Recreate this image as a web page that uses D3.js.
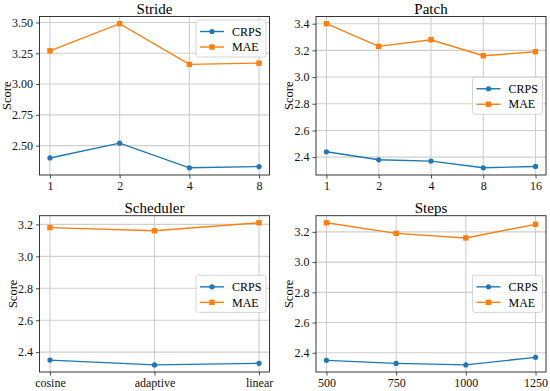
<!DOCTYPE html>
<html>
<head>
<meta charset="utf-8">
<script src="https://cdn.jsdelivr.net/npm/d3@7"></script>
<style>
  html, body { margin: 0; padding: 0; background: #fff; }
  svg { display: block; font-family: "Liberation Serif", "DejaVu Serif", serif; }
</style>
</head>
<body>
<div id="chart"></div>
<script>
// values
const strideCats = ['1', '2', '4', '8'];
const strideCRPS = [2.40, 2.52, 2.32, 2.33];
const strideMAE = [3.27, 3.49, 3.16, 3.17];
const strideTicks = [2.50, 2.75, 3.00, 3.25, 3.50];

const patchCats = ['1', '2', '4', '8', '16'];
const patchCRPS = [2.44, 2.38, 2.37, 2.32, 2.33];
const patchMAE = [3.40, 3.23, 3.28, 3.16, 3.19];
const patchTicks = [2.4, 2.6, 2.8, 3.0, 3.2, 3.4];

const schedCats = ['cosine', 'adaptive', 'linear'];
const schedCRPS = [2.35, 2.32, 2.33];
const schedMAE = [3.18, 3.16, 3.21];
const schedTicks = [2.4, 2.6, 2.8, 3.0, 3.2];

const stepsCats = ['500', '750', '1000', '1250'];
const stepsCRPS = [2.35, 2.33, 2.32, 2.37];
const stepsMAE = [3.26, 3.19, 3.16, 3.25];
const stepsTicks = [2.4, 2.6, 2.8, 3.0, 3.2];

const seriesNames = ['CRPS', 'MAE'];
const colors = { CRPS: '#1f77b4', MAE: '#ff7f0e' };
const serif = '"Liberation Serif", "DejaVu Serif", serif';

const panels = [
    { title: 'Stride', cats: strideCats, crps: strideCRPS, mae: strideMAE, ticks: strideTicks, fmt: '.2f', legend: 'upper',
      box: { x0: 39.5, x1: 269.5, y0: 16.5, y1: 175 } },
    { title: 'Patch', cats: patchCats, crps: patchCRPS, mae: patchMAE, ticks: patchTicks, fmt: '.1f', legend: 'center',
      box: { x0: 316, x1: 546, y0: 16.5, y1: 175 } },
    { title: 'Scheduler', cats: schedCats, crps: schedCRPS, mae: schedMAE, ticks: schedTicks, fmt: '.1f', legend: 'center',
      box: { x0: 39.5, x1: 269.5, y0: 215.7, y1: 372 } },
    { title: 'Steps', cats: stepsCats, crps: stepsCRPS, mae: stepsMAE, ticks: stepsTicks, fmt: '.1f', legend: 'center',
      box: { x0: 316, x1: 546, y0: 215.7, y1: 372 } }
];

const width = 550, height = 391;
const svg = d3.select('#chart').append('svg')
    .attr('width', width)
    .attr('height', height);

panels.forEach(p => drawPanel(p));

function drawPanel(p) {
    const b = p.box;
    const n = p.cats.length;
    const g = svg.append('g');

    const x = d3.scalePoint()
        .domain(p.cats)
        .range([b.x0, b.x1])
        .padding(0.05 * (n - 1));

    // matplotlib-style 5% margins on the data range
    const all = p.crps.concat(p.mae);
    const lo = d3.min(all), hi = d3.max(all);
    const m = (hi - lo) * 0.05;
    const y = d3.scaleLinear()
        .domain([lo - m, hi + m])
        .range([b.y1, b.y0]);

    // grid
    g.append('g').selectAll('line')
        .data(p.cats)
        .join('line')
        .attr('x1', d => x(d)).attr('x2', d => x(d))
        .attr('y1', b.y0).attr('y2', b.y1)
        .attr('stroke', '#cfcfcf').attr('stroke-width', 1.1);
    g.append('g').selectAll('line')
        .data(p.ticks)
        .join('line')
        .attr('x1', b.x0).attr('x2', b.x1)
        .attr('y1', d => y(d)).attr('y2', d => y(d))
        .attr('stroke', '#cfcfcf').attr('stroke-width', 1.1);

    // axes
    const xAxis = g.append('g')
        .attr('transform', `translate(0,${b.y1})`)
        .call(d3.axisBottom(x).tickSize(3.5).tickPadding(3));
    const yAxis = g.append('g')
        .attr('transform', `translate(${b.x0},0)`)
        .call(d3.axisLeft(y).tickValues(p.ticks).tickFormat(d3.format(p.fmt)).tickSize(3.5).tickPadding(3));
    [xAxis, yAxis].forEach(a => {
        a.attr('font-family', serif).attr('font-size', 12);
        a.select('.domain').remove();
        a.selectAll('.tick line').attr('stroke', '#222').attr('stroke-width', 0.8);
        a.selectAll('.tick text').attr('fill', '#111');
    });

    // frame
    g.append('rect')
        .attr('x', b.x0).attr('y', b.y0)
        .attr('width', b.x1 - b.x0).attr('height', b.y1 - b.y0)
        .attr('fill', 'none')
        .attr('stroke', '#222')
        .attr('stroke-width', 0.9);

    // lines + markers
    const line = d3.line()
        .x((d, i) => x(p.cats[i]))
        .y(d => y(d));
    const seriesData = [{ name: 'CRPS', vals: p.crps }, { name: 'MAE', vals: p.mae }];
    seriesData.forEach(s => {
        g.append('path')
            .datum(s.vals)
            .attr('d', line)
            .attr('fill', 'none')
            .attr('stroke', colors[s.name])
            .attr('stroke-width', 1.4);
        if (s.name === 'CRPS') {
            g.append('g').selectAll('circle')
                .data(s.vals)
                .join('circle')
                .attr('cx', (d, i) => x(p.cats[i]))
                .attr('cy', d => y(d))
                .attr('r', 2.6)
                .attr('fill', colors[s.name]);
        } else {
            g.append('g').selectAll('rect')
                .data(s.vals)
                .join('rect')
                .attr('x', (d, i) => x(p.cats[i]) - 2.7)
                .attr('y', d => y(d) - 2.7)
                .attr('width', 5.4).attr('height', 5.4)
                .attr('fill', colors[s.name]);
        }
    });

    // title
    g.append('text')
        .attr('x', (b.x0 + b.x1) / 2)
        .attr('y', b.y0 - 2.8)
        .attr('text-anchor', 'middle')
        .attr('fill', '#000')
        .attr('font-family', serif)
        .attr('font-size', 15)
        .text(p.title);

    // y label, placed left of the widest tick label
    let maxW = 0;
    yAxis.selectAll('.tick text').each(function () {
        maxW = Math.max(maxW, this.getComputedTextLength());
    });
    const lx = b.x0 - 6.5 - maxW - 5.8;
    g.append('text')
        .attr('transform', `translate(${lx},${(b.y0 + b.y1) / 2}) rotate(-90)`)
        .attr('dy', '0.35em')
        .attr('text-anchor', 'middle')
        .attr('fill', '#000')
        .attr('font-family', serif)
        .attr('font-size', 12.5)
        .text('Score');

    // legend
    const lw = 70, lh = 37;
    const lgx = b.x1 - 3.5 - lw;
    const lgy = p.legend === 'upper' ? b.y0 + 3.5 : (b.y0 + b.y1) / 2 - lh / 2;
    const lg = g.append('g').attr('transform', `translate(${lgx},${lgy})`);
    lg.append('rect')
        .attr('width', lw).attr('height', lh)
        .attr('rx', 2.5)
        .attr('fill', '#fff').attr('fill-opacity', 0.8)
        .attr('stroke', '#d0d0d0').attr('stroke-width', 0.9);
    seriesNames.forEach((name, i) => {
        const ry = 11.5 + i * 15.5;
        lg.append('line')
            .attr('x1', 4).attr('x2', 28)
            .attr('y1', ry).attr('y2', ry)
            .attr('stroke', colors[name]).attr('stroke-width', 1.4);
        if (name === 'CRPS') {
            lg.append('circle').attr('cx', 16).attr('cy', ry).attr('r', 2.6).attr('fill', colors[name]);
        } else {
            lg.append('rect').attr('x', 13.3).attr('y', ry - 2.7).attr('width', 5.4).attr('height', 5.4).attr('fill', colors[name]);
        }
        lg.append('text')
            .attr('x', 36).attr('y', ry)
            .attr('dy', '0.35em')
            .attr('fill', '#000')
            .attr('font-family', serif)
            .attr('font-size', 12)
            .text(name);
    });
}
</script>
</body>
</html>
